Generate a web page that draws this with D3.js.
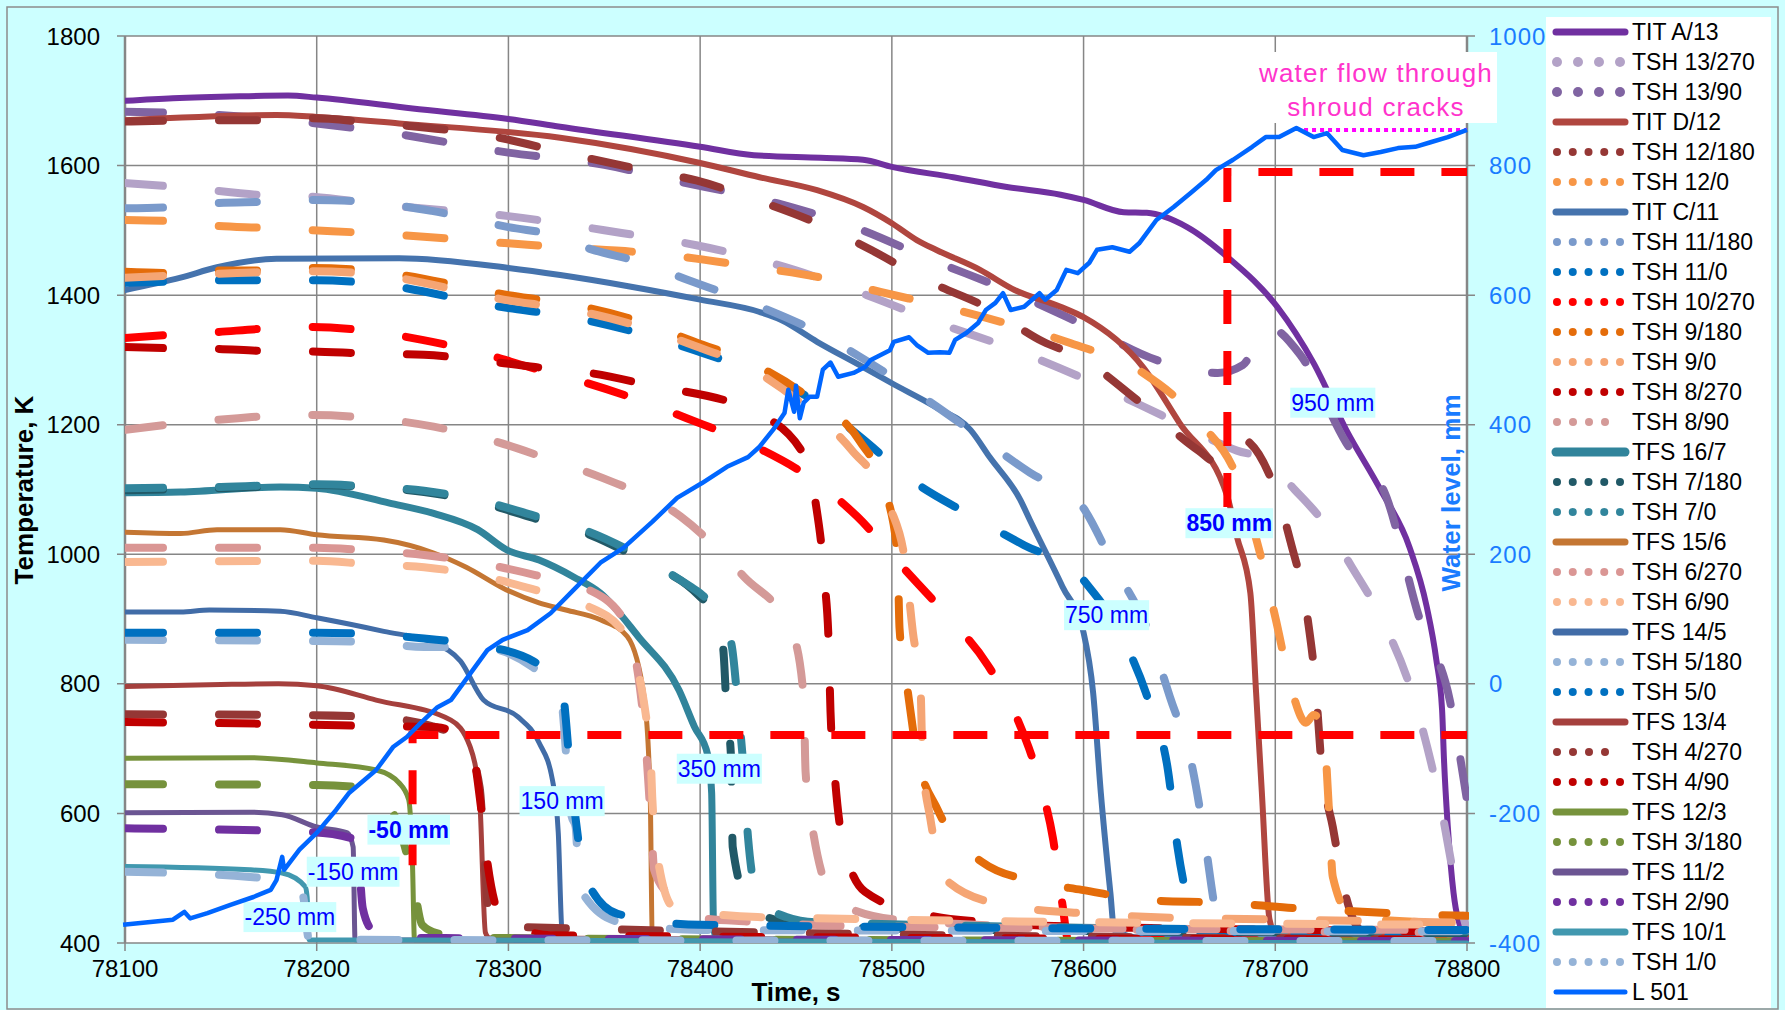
<!DOCTYPE html>
<html>
<head>
<meta charset="utf-8">
<script src="https://cdn.jsdelivr.net/npm/d3@7"></script>
<style>
  body { margin: 0; background: #fff; }
  svg { display: block; }
  text { font-family: "Liberation Sans", Arial, sans-serif; }
</style>
</head>
<body>
<svg id="chart" width="1785" height="1010"></svg>
<script>
// ---- axes ----
const timeTicks = [78100, 78200, 78300, 78400, 78500, 78600, 78700, 78800];
const tempTicks = [400, 600, 800, 1000, 1200, 1400, 1600, 1800];
const levelTicks = [-400, -200, 0, 200, 400, 600, 800, 1000];

// ---- temperatures [time s, K] ----
const titA13 = [[78100,1700],[78125,1704],[78160,1707],[78185,1708],[78200,1705],[78250,1688],[78300,1672],[78327,1660],[78400,1629],[78428,1616],[78463,1612],[78485,1609],[78500,1598],[78532,1582],[78560,1567],[78588,1555],[78600,1547],[78621,1528],[78633,1527],[78654,1505],[78675,1459],[78701,1382],[78720,1295],[78737,1192],[78755,1099],[78770,1011],[78779,919],[78784,837],[78787,760],[78788,683],[78790,579],[78793,477],[78798,415],[78800,405]];
const tsh13_270 = [[78100,1573],[78135,1565],[78169,1555],[78198,1552],[78236,1539],[78300,1522],[78359,1496],[78398,1477],[78440,1447],[78487,1400],[78527,1354],[78560,1320],[78598,1274],[78644,1210],[78680,1160],[78695,1146],[78710,1100],[78725,1050],[78740,980],[78755,903],[78772,780],[78786,616],[78795,477],[78800,420]];
const tsh13_90 = [[78100,1683],[78130,1681],[78200,1665],[78235,1652],[78300,1620],[78350,1601],[78385,1578],[78440,1542],[78483,1502],[78521,1454],[78560,1408],[78598,1357],[78641,1297],[78670,1280],[78683,1292],[78696,1351],[78713,1308],[78737,1172],[78758,1088],[78775,903],[78791,775],[78800,620]];
const titD12 = [[78100,1670],[78179,1678],[78200,1675],[78243,1665],[78327,1643],[78400,1604],[78431,1582],[78461,1562],[78485,1536],[78500,1511],[78513,1485],[78523,1470],[78546,1439],[78564,1408],[78588,1382],[78600,1366],[78631,1289],[78650,1203],[78675,1089],[78680,1027],[78687,940],[78690,786],[78693,632],[78697,436],[78700,415],[78800,410]];
const tsh12_180 = [[78100,1668],[78148,1670],[78171,1670],[78198,1673],[78226,1667],[78300,1640],[78327,1621],[78371,1593],[78398,1577],[78429,1547],[78461,1511],[78489,1470],[78520,1420],[78549,1382],[78579,1328],[78598,1304],[78628,1238],[78660,1160],[78670,1141],[78680,1181],[78698,1115],[78708,1019],[78717,898],[78721,798],[78724,679],[78730,579],[78737,470],[78745,420],[78800,415]];
const tsh12_0 = [[78100,1516],[78125,1514],[78148,1507],[78171,1504],[78198,1500],[78226,1496],[78300,1480],[78327,1474],[78373,1465],[78429,1443],[78465,1426],[78494,1405],[78530,1380],[78559,1357],[78593,1326],[78631,1280],[78661,1202],[78680,1119],[78692,1002],[78700,903],[78709,786],[78716,740],[78720,752],[78725,734],[78728,605],[78730,502],[78740,440],[78800,430]];
const titC11 = [[78100,1408],[78129,1427],[78148,1443],[78179,1456],[78243,1457],[78300,1442],[78327,1431],[78364,1413],[78400,1393],[78431,1374],[78442,1362],[78461,1328],[78485,1289],[78500,1264],[78523,1227],[78541,1192],[78551,1150],[78567,1084],[78572,1053],[78589,950],[78600,879],[78605,786],[78609,632],[78614,477],[78616,420],[78630,408],[78800,405]];
const tsh11_180 = [[78100,1534],[78125,1536],[78148,1542],[78171,1544],[78198,1547],[78226,1544],[78260,1530],[78300,1505],[78327,1490],[78340,1474],[78370,1450],[78394,1423],[78429,1385],[78461,1343],[78486,1300],[78517,1241],[78543,1187],[78572,1126],[78598,1079],[78616,981],[78634,879],[78645,780],[78657,667],[78663,564],[78669,446],[78672,410],[78800,405]];
const tsh11_0 = [[78100,1419],[78125,1421],[78148,1423],[78200,1423],[78226,1419],[78300,1380],[78327,1369],[78371,1339],[78397,1315],[78429,1281],[78461,1234],[78484,1180],[78512,1111],[78538,1065],[78569,1014],[78597,971],[78600,960],[78619,879],[78635,764],[78644,667],[78649,548],[78656,448],[78662,415],[78800,410]];
const tsh10_270 = [[78100,1334],[78125,1339],[78148,1343],[78171,1348],[78198,1351],[78226,1345],[78255,1331],[78284,1312],[78312,1288],[78339,1266],[78368,1238],[78393,1210],[78429,1166],[78457,1119],[78482,1058],[78506,979],[78527,911],[78550,829],[78565,749],[78577,649],[78584,562],[78589,459],[78592,405],[78800,404]];
const tsh9_180 = [[78100,1436],[78125,1434],[78148,1438],[78171,1438],[78198,1442],[78226,1438],[78300,1400],[78327,1388],[78342,1380],[78371,1357],[78397,1328],[78429,1292],[78460,1235],[78483,1176],[78498,1084],[78503,994],[78504,886],[78508,795],[78513,693],[78524,605],[78547,525],[78576,494],[78599,482],[78634,466],[78674,462],[78709,454],[78748,448],[78783,443],[78800,442]];
const tsh9_0 = [[78100,1427],[78148,1433],[78198,1437],[78226,1433],[78300,1392],[78327,1380],[78342,1372],[78371,1349],[78396,1323],[78428,1284],[78457,1223],[78479,1161],[78499,1073],[78507,986],[78511,879],[78515,791],[78516,682],[78520,593],[78530,493],[78558,459],[78599,446],[78635,440],[78709,436],[78783,432],[78800,431]];
const tsh8_270 = [[78100,1320],[78125,1318],[78148,1317],[78171,1314],[78198,1313],[78226,1310],[78256,1308],[78284,1300],[78314,1289],[78342,1280],[78372,1262],[78429,1219],[78455,1149],[78460,1084],[78465,956],[78467,865],[78468,757],[78470,667],[78474,562],[78486,479],[78519,443],[78550,432],[78598,425],[78635,423],[78800,418]];
const tsh8_90 = [[78100,1192],[78131,1203],[78159,1210],[78185,1215],[78198,1215],[78229,1210],[78261,1197],[78290,1177],[78322,1146],[78349,1118],[78390,1058],[78423,965],[78448,879],[78454,780],[78455,664],[78459,570],[78471,464],[78503,436],[78598,423],[78638,420],[78800,416]];
const tfs16_7 = [[78100,1095],[78129,1096],[78181,1104],[78200,1102],[78238,1079],[78261,1063],[78284,1038],[78299,1007],[78316,991],[78334,965],[78348,940],[78368,872],[78389,790],[78397,734],[78404,690],[78406,632],[78407,425],[78409,405],[78800,402]];
const tsh7_180 = [[78100,1099],[78148,1102],[78171,1104],[78198,1107],[78226,1104],[78256,1096],[78284,1081],[78313,1056],[78340,1033],[78370,990],[78399,937],[78407,909],[78412,855],[78414,749],[78416,693],[78417,548],[78425,463],[78440,435],[78457,428],[78487,423],[78800,415]];
const tsh7_0 = [[78100,1102],[78150,1104],[78200,1108],[78226,1105],[78256,1098],[78284,1084],[78313,1060],[78340,1037],[78370,995],[78395,950],[78400,940],[78416,865],[78420,757],[78422,693],[78425,562],[78430,471],[78445,440],[78460,432],[78800,418]];
const tfs15_6 = [[78100,1034],[78129,1032],[78148,1038],[78181,1038],[78200,1030],[78235,1022],[78261,1002],[78278,980],[78299,945],[78316,925],[78330,914],[78348,899],[78362,873],[78371,775],[78374,621],[78375,415],[78378,405],[78800,405]];
const tsh6_270 = [[78100,1010],[78200,1010],[78226,1006],[78256,999],[78284,987],[78314,968],[78340,948],[78360,900],[78371,729],[78373,647],[78375,554],[78376,513],[78385,470],[78399,439],[78426,433],[78500,425],[78800,420]];
const tsh6_90 = [[78100,988],[78200,990],[78226,985],[78256,980],[78284,968],[78314,945],[78340,922],[78360,880],[78374,698],[78375,626],[78378,528],[78386,456],[78430,440],[78800,428]];
const tfs14_5 = [[78100,911],[78129,911],[78144,914],[78181,912],[78200,902],[78235,881],[78261,863],[78275,835],[78287,775],[78305,749],[78316,709],[78323,651],[78326,570],[78328,416],[78330,405],[78800,402]];
const tsh5_180 = [[78100,868],[78200,866],[78226,865],[78256,857],[78284,857],[78313,825],[78327,782],[78333,595],[78335,580],[78337,485],[78357,433],[78400,420],[78800,418]];
const tsh5_0 = [[78100,879],[78200,879],[78226,877],[78256,870],[78284,860],[78313,835],[78328,790],[78332,675],[78335,593],[78340,502],[78357,445],[78400,428],[78800,420]];
const tfs13_4 = [[78100,796],[78150,799],[78180,800],[78200,797],[78231,775],[78270,744],[78280,703],[78285,621],[78288,416],[78290,408],[78800,402]];
const tsh4_270 = [[78100,753],[78185,752],[78228,749],[78260,735],[78278,705],[78285,640],[78287,560],[78290,440],[78300,425],[78800,405]];
const tsh4_90 = [[78100,741],[78198,737],[78226,735],[78263,733],[78281,695],[78286,602],[78289,525],[78297,435],[78308,420],[78322,412],[78800,405]];
const tfs12_3 = [[78100,685],[78165,686],[78200,678],[78231,667],[78243,647],[78248,621],[78250,517],[78251,405],[78800,400]];
const tsh3_180 = [[78100,645],[78200,644],[78226,639],[78240,600],[78250,500],[78255,428],[78263,415],[78281,408],[78800,402]];
const tfs11_2 = [[78100,601],[78165,602],[78182,598],[78200,579],[78216,570],[78219,548],[78220,405],[78800,400]];
const tsh2_90 = [[78100,577],[78198,571],[78221,559],[78224,454],[78229,420],[78240,408],[78800,403]];
const tfs10_1 = [[78100,518],[78165,513],[78182,508],[78194,487],[78195,471],[78196,405],[78800,400]];
const tsh1_0 = [[78100,510],[78165,502],[78190,490],[78193,471],[78196,405],[78800,403]];

// ---- water level [time s, mm] ----
const l501 = [[78099,-372],[78125,-364],[78131,-352],[78134,-362],[78143,-354],[78155,-341],[78167,-329],[78176,-318],[78179,-303],[78182,-267],[78183,-287],[78191,-256],[78200,-230],[78210,-195],[78217,-168],[78231,-133],[78240,-97],[78247,-82],[78254,-61],[78263,-36],[78270,-25],[78289,52],[78297,68],[78310,83],[78322,109],[78334,145],[78348,187],[78360,210],[78375,250],[78388,287],[78401,310],[78414,335],[78425,350],[78431,366],[78438,392],[78444,418],[78446,454],[78449,420],[78450,460],[78452,410],[78454,434],[78457,443],[78461,443],[78464,485],[78468,496],[78472,474],[78480,480],[78486,489],[78489,500],[78499,515],[78501,528],[78509,535],[78513,523],[78519,511],[78525,512],[78530,511],[78533,531],[78539,542],[78545,557],[78549,577],[78554,588],[78558,603],[78562,577],[78569,582],[78577,603],[78580,593],[78586,608],[78591,639],[78597,634],[78603,650],[78607,670],[78615,674],[78624,667],[78629,680],[78638,716],[78647,736],[78656,758],[78664,778],[78669,793],[78678,809],[78688,829],[78695,844],[78702,844],[78711,858],[78720,844],[78727,850],[78735,824],[78746,816],[78755,821],[78764,827],[78773,829],[78781,836],[78790,844],[78800,855]];

// ---- marker lines [time s, mm] ----
const markLow = [[78250,-280],[78250,-79],[78800,-79]];
const markHigh = [[78675,273],[78675,790],[78800,790]];
const crackLine = [[78715,855],[78800,855]];

// ---- level labels [text, time, K, bold] ----
const levelLabels = [
  ["950 mm", 78730, 1234, false],
  ["850 mm", 78676, 1048, true],
  ["750 mm", 78612, 906, false],
  ["350 mm", 78410, 669, false],
  ["150 mm", 78328, 619, false],
  ["-50 mm", 78248, 575, true],
  ["-150 mm", 78219, 510, false],
  ["-250 mm", 78186, 440, false]
];

const seriesNames = ["TIT A/13","TSH 13/270","TSH 13/90","TIT D/12","TSH 12/180","TSH 12/0","TIT C/11","TSH 11/180","TSH 11/0","TSH 10/270","TSH 9/180","TSH 9/0","TSH 8/270","TSH 8/90","TFS 16/7","TSH 7/180","TSH 7/0","TFS 15/6","TSH 6/270","TSH 6/90","TFS 14/5","TSH 5/180","TSH 5/0","TFS 13/4","TSH 4/270","TSH 4/90","TFS 12/3","TSH 3/180","TFS 11/2","TSH 2/90","TFS 10/1","TSH 1/0"];
const seriesValues = [titA13,tsh13_270,tsh13_90,titD12,tsh12_180,tsh12_0,titC11,tsh11_180,tsh11_0,tsh10_270,tsh9_180,tsh9_0,tsh8_270,tsh8_90,tfs16_7,tsh7_180,tsh7_0,tfs15_6,tsh6_270,tsh6_90,tfs14_5,tsh5_180,tsh5_0,tfs13_4,tsh4_270,tsh4_90,tfs12_3,tsh3_180,tfs11_2,tsh2_90,tfs10_1,tsh1_0];
const seriesColors = ["#7030a0","#b3a2c7","#8064a2","#b0463f","#953735","#f79646","#4573ad","#7a9acb","#0070c0","#ff0000","#e46c0a","#f5a574","#c00000","#d49a98","#31849b","#215967","#31859c","#c47633","#da9694","#f9b891","#416ca7","#95b3d7","#0070c0","#a5403d","#953735","#c00000","#77933c","#76923c","#6b5592","#7030a0","#4198af","#95b3d7"];

const svg = d3.select("#chart");
const W = 1785, H = 1010;
const plot = {left: 125, right: 1467, top: 36, bottom: 943};

const x = d3.scaleLinear().domain([78100, 78800]).range([plot.left, plot.right]);
const y = d3.scaleLinear().domain([400, 1800]).range([plot.bottom, plot.top]);
const yL = d3.scaleLinear().domain([-400, 1000]).range([plot.bottom, plot.top]);

// background
svg.append("rect").attr("width", W).attr("height", H).attr("fill", "#ccffff");
svg.append("rect").attr("x", 7).attr("y", 7).attr("width", W - 14).attr("height", H - 8)
  .attr("fill", "none").attr("stroke", "#8c8c8c").attr("stroke-width", 1.5);
svg.append("rect").attr("x", plot.left).attr("y", plot.top)
  .attr("width", plot.right - plot.left).attr("height", plot.bottom - plot.top).attr("fill", "#fff");

// grid
svg.append("g").selectAll("line").data(tempTicks).join("line")
  .attr("x1", plot.left - 8).attr("x2", plot.right + 8)
  .attr("y1", d => y(d)).attr("y2", d => y(d))
  .attr("stroke", "#868686").attr("stroke-width", 1.5);
svg.append("g").selectAll("line").data(timeTicks).join("line")
  .attr("x1", d => x(d)).attr("x2", d => x(d))
  .attr("y1", plot.top).attr("y2", plot.bottom + 8)
  .attr("stroke", "#868686").attr("stroke-width", 1.5);
svg.append("line").attr("x1", plot.left).attr("x2", plot.left).attr("y1", plot.top).attr("y2", plot.bottom)
  .attr("stroke", "#868686").attr("stroke-width", 2.5);
svg.append("line").attr("x1", plot.right).attr("x2", plot.right).attr("y1", plot.top).attr("y2", plot.bottom)
  .attr("stroke", "#868686").attr("stroke-width", 2.5);

// tick labels
svg.append("g").selectAll("text").data(tempTicks).join("text")
  .attr("x", 100).attr("y", d => y(d)).attr("dy", "0.36em")
  .attr("text-anchor", "end").attr("font-size", 24).attr("fill", "#000").text(d => d);
svg.append("g").selectAll("text").data(timeTicks).join("text")
  .attr("x", d => x(d)).attr("y", 977)
  .attr("text-anchor", "middle").attr("font-size", 24).attr("fill", "#000").text(d => d);
svg.append("g").selectAll("text").data(levelTicks).join("text")
  .attr("x", 1489).attr("y", d => yL(d)).attr("dy", "0.36em")
  .attr("font-size", 24).attr("letter-spacing", 1).attr("fill", "#1a7cff").text(d => d);

// axis titles
svg.append("text").attr("transform", "translate(33,490) rotate(-90)")
  .attr("text-anchor", "middle").attr("font-size", 26).attr("font-weight", "bold").text("Temperature, K");
svg.append("text").attr("x", 796).attr("y", 1001)
  .attr("text-anchor", "middle").attr("font-size", 26).attr("font-weight", "bold").text("Time, s");

// series
svg.append("clipPath").attr("id", "clip").append("rect")
  .attr("x", plot.left).attr("y", plot.top - 10)
  .attr("width", plot.right - plot.left + 2).attr("height", plot.bottom - plot.top + 10);

const line = d3.line().x(d => x(d[0])).y(d => y(d[1])).curve(d3.curveMonotoneX);
const lineL = d3.line().x(d => x(d[0])).y(d => yL(d[1]));

function styleOf(name) {
  if (name.startsWith("TIT")) return {w: 6, dash: null};
  if (name === "TFS 16/7") return {w: 7, dash: null};
  if (name.startsWith("TFS")) return {w: 5, dash: null};
  return {w: 8, dash: "38 56"};
}

const gSeries = svg.append("g").attr("clip-path", "url(#clip)");
seriesNames.forEach((name, i) => {
  const st = styleOf(name);
  gSeries.append("path")
    .attr("d", line(seriesValues[i]))
    .attr("fill", "none")
    .attr("stroke", seriesColors[i])
    .attr("stroke-width", st.w)
    .attr("stroke-linecap", "round")
    .attr("stroke-linejoin", "round")
    .attr("stroke-dasharray", st.dash);
});

// red marker lines
[markLow, markHigh].forEach(m => {
  gSeries.append("path").attr("d", lineL(m))
    .attr("fill", "none").attr("stroke", "#ff0000").attr("stroke-width", 8)
    .attr("stroke-dasharray", "34 27");
});

// level labels
levelLabels.forEach(([txt, t, T, bold]) => {
  const g = svg.append("g");
  const tx = g.append("text").attr("x", x(t)).attr("y", y(T)).attr("dy", "0.36em")
    .attr("text-anchor", "middle").attr("font-size", 23)
    .attr("font-weight", bold ? "bold" : "normal").attr("fill", "#0000ff").text(txt);
  const bb = tx.node().getBBox();
  g.insert("rect", "text").attr("x", bb.x - 1).attr("y", y(T) - 15)
    .attr("width", bb.width + 2).attr("height", 30).attr("fill", "#ccffff");
});

// water flow label
svg.append("rect").attr("x", 1253).attr("y", 52).attr("width", 244).attr("height", 71).attr("fill", "#fff");
svg.append("text").attr("x", 1376).attr("y", 82).attr("text-anchor", "middle")
  .attr("font-size", 26).attr("letter-spacing", 1.2).attr("fill", "#ff33cc").text("water flow through");
svg.append("text").attr("x", 1376).attr("y", 116).attr("text-anchor", "middle")
  .attr("font-size", 26).attr("letter-spacing", 1.2).attr("fill", "#ff33cc").text("shroud cracks");
svg.append("path").attr("d", lineL(crackLine)).attr("fill", "none")
  .attr("stroke", "#ff00ff").attr("stroke-width", 4).attr("stroke-dasharray", "4 4");

// water level
svg.append("path").attr("d", lineL(l501)).attr("fill", "none")
  .attr("stroke", "#0066ff").attr("stroke-width", 4.5).attr("stroke-linejoin", "round");

svg.append("text").attr("transform", "translate(1460,493) rotate(-90)")
  .attr("text-anchor", "middle").attr("font-size", 26).attr("font-weight", "bold")
  .attr("fill", "#1a7cff").text("Water level, mm");

// legend
const legX = 1546, legY0 = 32, legStep = 30;
svg.append("rect").attr("x", legX).attr("y", 17).attr("width", 225).attr("height", 991).attr("fill", "#fff");
const legNames = seriesNames.concat(["L 501"]);
const legColors = seriesColors.concat(["#0066ff"]);
const wideDots = ["TSH 13/270", "TSH 13/90"];
const shortDots = ["TSH 8/90", "TSH 4/270"];
legNames.forEach((name, i) => {
  const cy = legY0 + i * legStep;
  const g = svg.append("g");
  const col = legColors[i];
  if (name.startsWith("TSH")) {
    let xs = d3.range(5).map(k => 1557 + k * 15.75);
    if (wideDots.includes(name)) xs = d3.range(4).map(k => 1557 + k * 21);
    if (shortDots.includes(name)) xs = d3.range(4).map(k => 1557 + k * 16);
    const r = wideDots.includes(name) ? 5 : 4;
    g.selectAll("circle").data(xs).join("circle")
      .attr("cx", d => d).attr("cy", cy).attr("r", r).attr("fill", col);
  } else {
    const w = name === "TFS 16/7" ? 9 : (name === "L 501" ? 5 : 7);
    g.append("line").attr("x1", 1556).attr("x2", 1625).attr("y1", cy).attr("y2", cy)
      .attr("stroke", col).attr("stroke-width", w).attr("stroke-linecap", "round");
  }
  g.append("text").attr("x", 1632).attr("y", cy).attr("dy", "0.36em")
    .attr("font-size", 23).attr("fill", "#000").text(name);
});
</script>
</body>
</html>
